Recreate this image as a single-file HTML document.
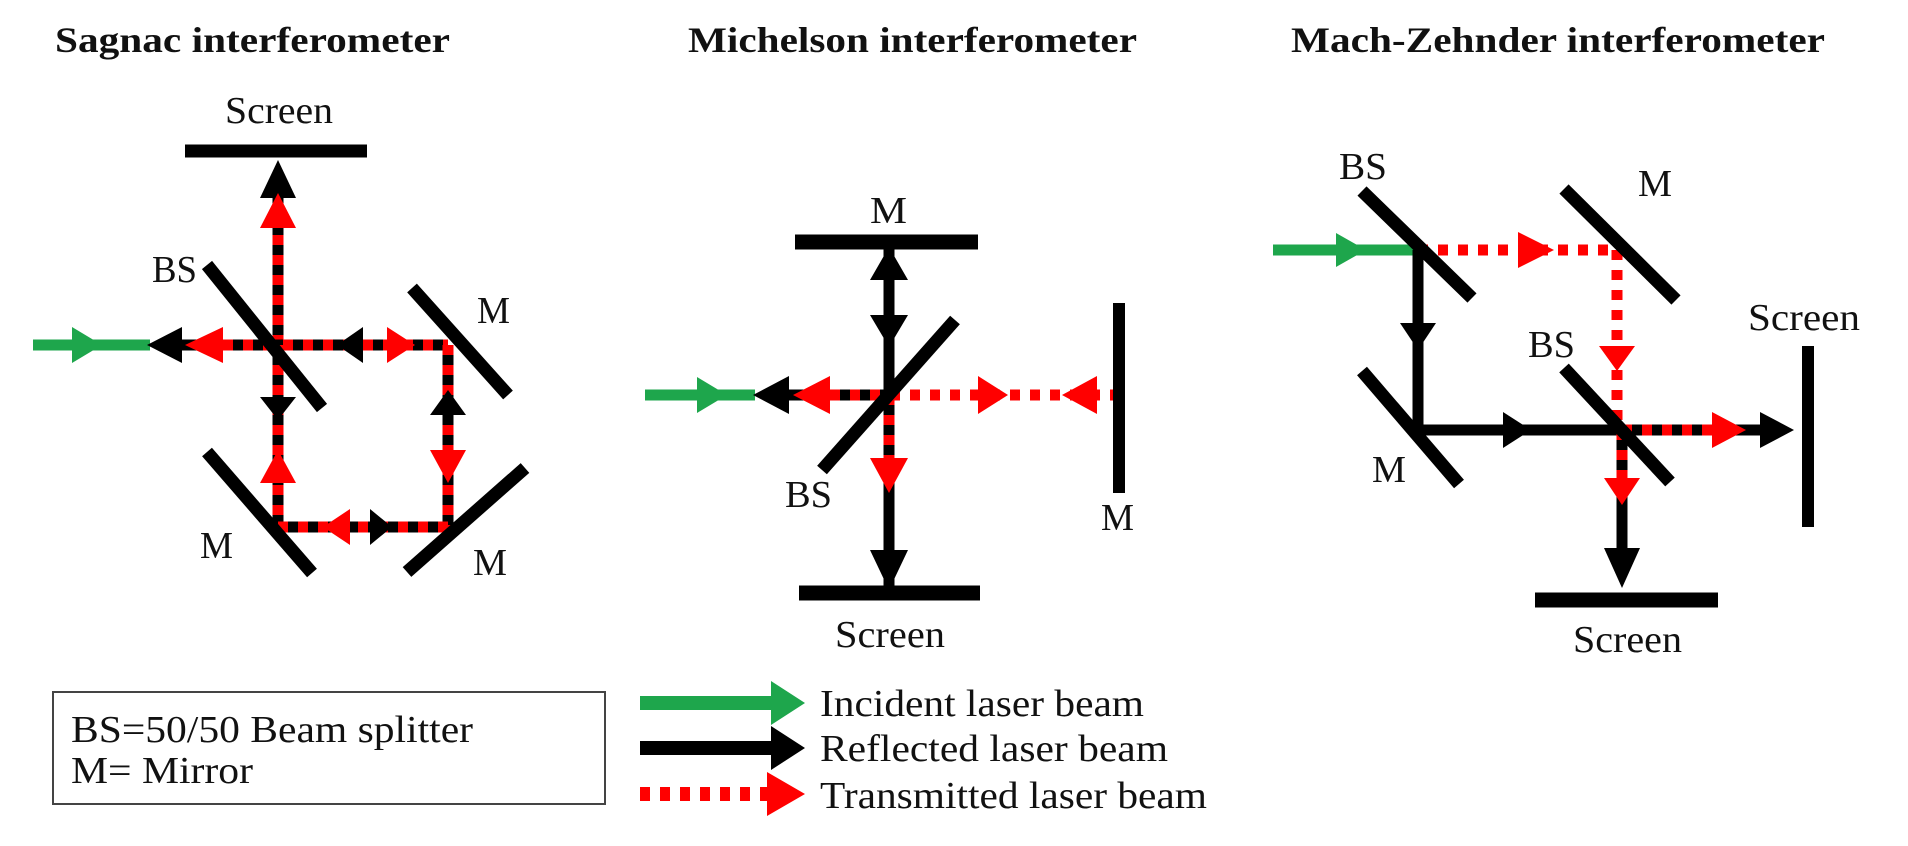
<!DOCTYPE html>
<html><head><meta charset="utf-8"><style>
html,body{margin:0;padding:0;background:#fff;}
svg{display:block;}
text{font-family:"Liberation Serif",serif;fill:#111;}
.t{font-weight:bold;font-size:36px;}
.l{font-size:38px;}
</style></head><body>
<svg width="1908" height="846" viewBox="0 0 1908 846" xmlns="http://www.w3.org/2000/svg">
<!-- Titles -->
<text class="t" x="55" y="52" textLength="395" lengthAdjust="spacingAndGlyphs">Sagnac interferometer</text>
<text class="t" x="688" y="52" textLength="449" lengthAdjust="spacingAndGlyphs">Michelson interferometer</text>
<text class="t" x="1291" y="52" textLength="534" lengthAdjust="spacingAndGlyphs">Mach-Zehnder interferometer</text>

<!-- ===== Sagnac ===== -->
<g>
<line x1="185" y1="151" x2="367" y2="151" stroke="#000" stroke-width="13"/>
<text class="l" x="225" y="123" textLength="108" lengthAdjust="spacingAndGlyphs">Screen</text>
<g>
<line x1="278" y1="345" x2="278" y2="195" stroke="#000" stroke-width="11"/>
<line x1="278" y1="345" x2="278" y2="225" stroke="#f00" stroke-width="11" stroke-dasharray="10 10"/>
<line x1="33" y1="345" x2="150" y2="345" stroke="#1ea64c" stroke-width="11"/>
<line x1="180" y1="345" x2="448" y2="345" stroke="#000" stroke-width="11"/>
<line x1="223" y1="345" x2="448" y2="345" stroke="#f00" stroke-width="11" stroke-dasharray="10 10"/>
<line x1="448" y1="345" x2="448" y2="527" stroke="#000" stroke-width="11"/>
<line x1="448" y1="345" x2="448" y2="527" stroke="#f00" stroke-width="11" stroke-dasharray="10 10"/>
<line x1="278" y1="345" x2="278" y2="527" stroke="#000" stroke-width="11"/>
<line x1="278" y1="345" x2="278" y2="527" stroke="#f00" stroke-width="11" stroke-dasharray="10 10"/>
<line x1="278" y1="527" x2="448" y2="527" stroke="#000" stroke-width="11"/>
<line x1="278" y1="527" x2="448" y2="527" stroke="#f00" stroke-width="11" stroke-dasharray="10 10"/>
<polygon points="278,160 260,198 296,198" fill="#000"/>
<polygon points="278,193 260,228 296,228" fill="#f00"/>
<polygon points="102,345 72,327 72,363" fill="#1ea64c"/>
<polygon points="147,345 182,327 182,363" fill="#000"/>
<polygon points="185,345 223,327 223,363" fill="#f00"/>
<polygon points="337,345 363,327 363,363" fill="#000"/>
<polygon points="415,345 387,327 387,363" fill="#f00"/>
<polygon points="448,390 430,415 466,415" fill="#000"/>
<polygon points="448,483 430,450 466,450" fill="#f00"/>
<polygon points="278,420 260,397 296,397" fill="#000"/>
<polygon points="278,450 260,483 296,483" fill="#f00"/>
<polygon points="323,527 350,509 350,545" fill="#f00"/>
<polygon points="392,527 370,509 370,545" fill="#000"/>
</g>
<line x1="207" y1="265" x2="322" y2="408" stroke="#000" stroke-width="13"/>
<line x1="412" y1="288" x2="508" y2="395" stroke="#000" stroke-width="13"/>
<line x1="207" y1="452" x2="312" y2="573" stroke="#000" stroke-width="13"/>
<line x1="407" y1="572" x2="525" y2="468" stroke="#000" stroke-width="13"/>
<text class="l" x="152" y="282" textLength="45" lengthAdjust="spacingAndGlyphs">BS</text>
<text class="l" x="477" y="323" textLength="33" lengthAdjust="spacingAndGlyphs">M</text>
<text class="l" x="200" y="558" textLength="33" lengthAdjust="spacingAndGlyphs">M</text>
<text class="l" x="473" y="575" textLength="34" lengthAdjust="spacingAndGlyphs">M</text>
</g>

<!-- ===== Michelson ===== -->
<g>
<text class="l" x="870" y="223" textLength="37" lengthAdjust="spacingAndGlyphs">M</text>
<line x1="795" y1="242" x2="978" y2="242" stroke="#000" stroke-width="15"/>
<g>
<line x1="889" y1="242" x2="889" y2="588" stroke="#000" stroke-width="11"/>
<line x1="889" y1="395" x2="889" y2="460" stroke="#f00" stroke-width="11" stroke-dasharray="10 10"/>
<line x1="645" y1="395" x2="755" y2="395" stroke="#1ea64c" stroke-width="11"/>
<line x1="785" y1="395" x2="889" y2="395" stroke="#000" stroke-width="11"/>
<line x1="830" y1="395" x2="1119" y2="395" stroke="#f00" stroke-width="11" stroke-dasharray="10 10"/>
<polygon points="889,247 870,280 908,280" fill="#000"/>
<polygon points="889,347 870,315 908,315" fill="#000"/>
<polygon points="889,493 870,458 908,458" fill="#f00"/>
<polygon points="889,590 870,550 908,550" fill="#000"/>
<polygon points="727,395 697,377 697,413" fill="#1ea64c"/>
<polygon points="753,395 789,376 789,414" fill="#000"/>
<polygon points="793,395 830,376 830,414" fill="#f00"/>
<polygon points="1008,395 978,376 978,414" fill="#f00"/>
<polygon points="1062,395 1097,376 1097,414" fill="#f00"/>
</g>
<line x1="822" y1="470" x2="955" y2="320" stroke="#000" stroke-width="13"/>
<line x1="1119" y1="303" x2="1119" y2="493" stroke="#000" stroke-width="12"/>
<text class="l" x="1101" y="530" textLength="33" lengthAdjust="spacingAndGlyphs">M</text>
<text class="l" x="785" y="507" textLength="47" lengthAdjust="spacingAndGlyphs">BS</text>
<line x1="799" y1="593" x2="980" y2="593" stroke="#000" stroke-width="15"/>
<text class="l" x="835" y="647" textLength="110" lengthAdjust="spacingAndGlyphs">Screen</text>
</g>

<!-- ===== Mach-Zehnder ===== -->
<g>
<g>
<line x1="1273" y1="250" x2="1418" y2="250" stroke="#1ea64c" stroke-width="11"/>
<line x1="1418" y1="250" x2="1617" y2="250" stroke="#f00" stroke-width="11" stroke-dasharray="10 10"/>
<line x1="1617" y1="250" x2="1617" y2="430" stroke="#f00" stroke-width="11" stroke-dasharray="10 10"/>
<line x1="1418" y1="250" x2="1418" y2="430" stroke="#000" stroke-width="11"/>
<line x1="1418" y1="430" x2="1762" y2="430" stroke="#000" stroke-width="11"/>
<line x1="1622" y1="430" x2="1712" y2="430" stroke="#f00" stroke-width="11" stroke-dasharray="10 10"/>
<line x1="1622" y1="430" x2="1622" y2="550" stroke="#000" stroke-width="11"/>
<line x1="1622" y1="430" x2="1622" y2="480" stroke="#f00" stroke-width="11" stroke-dasharray="10 10"/>
<polygon points="1366,250 1336,233 1336,267" fill="#1ea64c"/>
<polygon points="1554,250 1518,232 1518,268" fill="#f00"/>
<polygon points="1617,371 1599,346 1635,346" fill="#f00"/>
<polygon points="1418,350 1400,323 1436,323" fill="#000"/>
<polygon points="1531,430 1503,412 1503,448" fill="#000"/>
<polygon points="1746,430 1712,412 1712,448" fill="#f00"/>
<polygon points="1794,430 1760,412 1760,448" fill="#000"/>
<polygon points="1622,505 1604,478 1640,478" fill="#f00"/>
<polygon points="1622,588 1604,548 1640,548" fill="#000"/>
</g>
<text class="l" x="1339" y="179" textLength="48" lengthAdjust="spacingAndGlyphs">BS</text>
<line x1="1362" y1="191" x2="1472" y2="298" stroke="#000" stroke-width="13"/>
<text class="l" x="1638" y="196" textLength="34" lengthAdjust="spacingAndGlyphs">M</text>
<line x1="1564" y1="189" x2="1676" y2="300" stroke="#000" stroke-width="13"/>
<line x1="1362" y1="371" x2="1459" y2="484" stroke="#000" stroke-width="13"/>
<text class="l" x="1372" y="482" textLength="34" lengthAdjust="spacingAndGlyphs">M</text>
<line x1="1564" y1="368" x2="1670" y2="482" stroke="#000" stroke-width="13"/>
<text class="l" x="1528" y="357" textLength="47" lengthAdjust="spacingAndGlyphs">BS</text>
<line x1="1808" y1="346" x2="1808" y2="527" stroke="#000" stroke-width="12"/>
<text class="l" x="1748" y="330" textLength="112" lengthAdjust="spacingAndGlyphs">Screen</text>
<line x1="1535" y1="600" x2="1718" y2="600" stroke="#000" stroke-width="15"/>
<text class="l" x="1573" y="652" textLength="109" lengthAdjust="spacingAndGlyphs">Screen</text>
</g>

<!-- ===== Abbreviation box ===== -->
<g>
<rect x="53" y="692" width="552" height="112" fill="none" stroke="#444" stroke-width="2"/>
<text class="l" x="71" y="742" textLength="402" lengthAdjust="spacingAndGlyphs">BS=50/50 Beam splitter</text>
<text class="l" x="71" y="783" textLength="182" lengthAdjust="spacingAndGlyphs">M= Mirror</text>
</g>

<!-- ===== Beam legend ===== -->
<g>
<g>
<line x1="640" y1="703" x2="772" y2="703" stroke="#1ea64c" stroke-width="14"/>
<polygon points="805,703 771,681 771,725" fill="#1ea64c"/>
<text class="l" x="820" y="716" textLength="324" lengthAdjust="spacingAndGlyphs">Incident laser beam</text>
</g>
<g>
<line x1="640" y1="748" x2="772" y2="748" stroke="#000" stroke-width="14"/>
<polygon points="805,748 771,726 771,770" fill="#000"/>
<text class="l" x="820" y="761" textLength="348" lengthAdjust="spacingAndGlyphs">Reflected  laser beam</text>
</g>
<g>
<line x1="640" y1="794" x2="767" y2="794" stroke="#f00" stroke-width="14" stroke-dasharray="10 10"/>
<polygon points="805,794 767,772 767,816" fill="#f00"/>
<text class="l" x="820" y="808" textLength="387" lengthAdjust="spacingAndGlyphs">Transmitted laser beam</text>
</g>
</g>
</svg>
</body></html>
